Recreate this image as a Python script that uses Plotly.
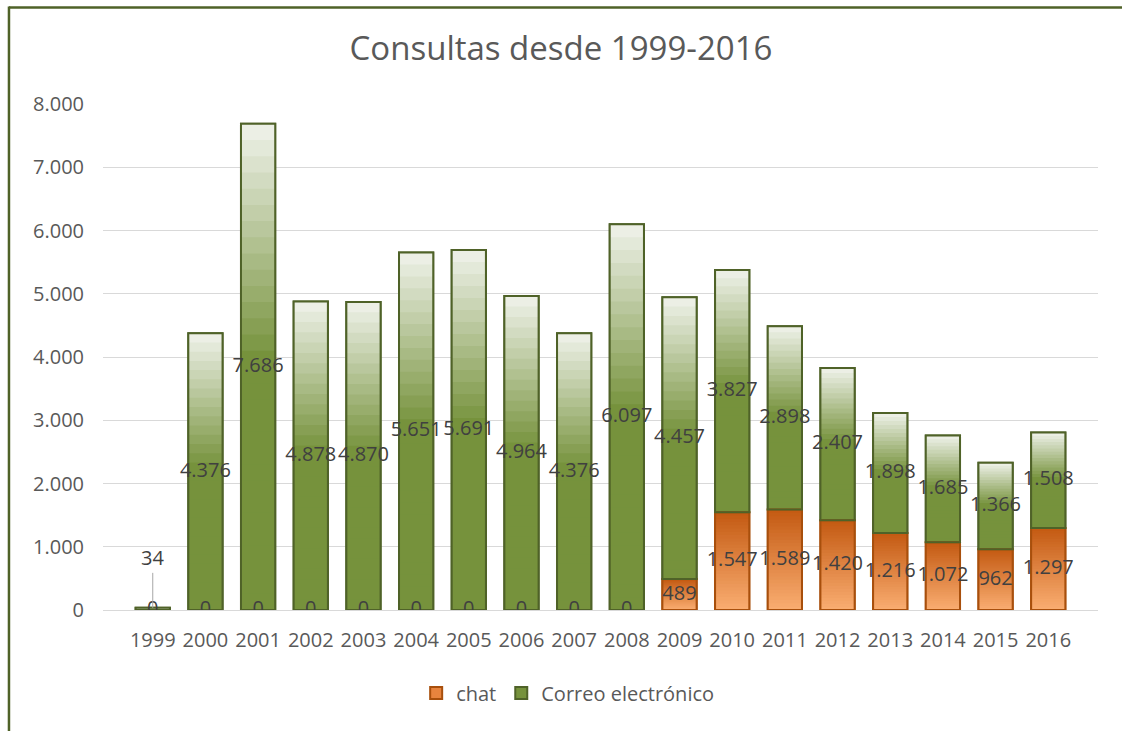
import plotly.graph_objects as go

years = ["1999", "2000", "2001", "2002", "2003", "2004", "2005", "2006", "2007",
         "2008", "2009", "2010", "2011", "2012", "2013", "2014", "2015", "2016"]
chat = [0, 0, 0, 0, 0, 0, 0, 0, 0, 0, 489, 1547, 1589, 1420, 1216, 1072, 962, 1297]
correo = [34, 4376, 7686, 4878, 4870, 5651, 5691, 4964, 4376, 6097, 4457, 3827,
          2898, 2407, 1898, 1685, 1366, 1508]

FONT = "Open Sans"
TXT = "#404040"
GREY = "#595959"
GREEN = (118, 146, 60)
GREEN_TOP = (244, 246, 241)
ORANGE_TOP = (194, 88, 16)
ORANGE_BOT = (249, 172, 112)
N = 30  # layers used to fake the gradient fill


def fmt(v):
    return f"{v:,}".replace(",", ".")


def mix(a, b, t):
    return "rgb(%d,%d,%d)" % tuple(round(a[i] + (b[i] - a[i]) * t) for i in range(3))


def green_at(t):
    # t=0 bottom, t=1 top: solid green in the lower half, fading to white on top
    if t < 0.5:
        return mix(GREEN, GREEN, 0)
    return mix(GREEN, GREEN_TOP, (t - 0.5) / 0.5)


fig = go.Figure()

# base traces (carry the legend)
fig.add_trace(go.Bar(x=years, y=chat, base=[0] * len(years), name="chat",
                     marker=dict(color="rgb(232,132,62)", line=dict(color="#A84F0C", width=2)),
                     width=0.65, hoverinfo="skip"))
fig.add_trace(go.Bar(x=years, y=correo, base=chat, name="Correo electrónico",
                     marker=dict(color="rgb(118,146,60)", line=dict(color="#4F6228", width=2)),
                     width=0.65, hoverinfo="skip"))

# gradient layers: each one runs from its start up to the segment top, so no seams
for k in range(N):
    t = k / N
    fig.add_trace(go.Bar(x=years, y=[c * (1 - t) for c in chat],
                         base=[c * t for c in chat],
                         marker=dict(color=mix(ORANGE_BOT, ORANGE_TOP, t), line=dict(width=0)),
                         width=0.65, showlegend=False, hoverinfo="skip"))
    fig.add_trace(go.Bar(x=years, y=[g * (1 - t) for g in correo],
                         base=[c + g * t for c, g in zip(chat, correo)],
                         marker=dict(color=green_at(t), line=dict(width=0)),
                         width=0.65, showlegend=False, hoverinfo="skip"))

# outlines on top
fig.add_trace(go.Bar(x=years, y=chat, base=[0] * len(years), name="chat",
                     marker=dict(color="rgba(0,0,0,0)", line=dict(color="#A84F0C", width=2)),
                     width=0.65, showlegend=False,
                     customdata=chat, hovertemplate="%{x}<br>chat: %{customdata:,}<extra></extra>"))
fig.add_trace(go.Bar(x=years, y=correo, base=chat, name="Correo electrónico",
                     marker=dict(color="rgba(0,0,0,0)", line=dict(color="#4F6228", width=2)),
                     width=0.65, showlegend=False,
                     customdata=correo,
                     hovertemplate="%{x}<br>Correo electrónico: %{customdata:,}<extra></extra>"))

# data labels
fig.add_trace(go.Scatter(x=years, y=[c / 2 for c in chat], mode="text",
                         text=[fmt(c) for c in chat], showlegend=False, hoverinfo="skip",
                         textfont=dict(family=FONT, size=20, color=TXT)))
fig.add_trace(go.Scatter(x=years[1:], y=[c + g / 2 for c, g in zip(chat[1:], correo[1:])],
                         mode="text", text=[fmt(g) for g in correo[1:]], showlegend=False,
                         hoverinfo="skip", textfont=dict(family=FONT, size=20, color=TXT)))

# 1999 label sits above its tiny bar with a leader line (category index 0)
fig.add_annotation(x=0, y=chat[0] + correo[0], text=fmt(correo[0]), showarrow=True,
                   arrowhead=0, arrowwidth=1, arrowcolor="#A6A6A6", ax=0, ay=-50,
                   font=dict(family=FONT, size=20, color=TXT))

# chart frame (top and left edges visible in the crop)
fig.add_shape(type="line", xref="paper", yref="paper", x0=-0.0945, x1=1.1, y0=1.1905, y1=1.1905,
              line=dict(color="#4F6228", width=2.5))
fig.add_shape(type="line", xref="paper", yref="paper", x0=-0.0945, x1=-0.0945, y0=-0.5, y1=1.1925,
              line=dict(color="#4F6228", width=2.5))

fig.update_layout(
    width=1122, height=731,
    barmode="overlay",
    separators=",.",
    paper_bgcolor="white", plot_bgcolor="white",
    margin=dict(l=103, r=24, t=104, b=121),
    font=dict(family=FONT, color=GREY, size=20),
    title=dict(text="Consultas desde 1999-2016", x=0.5, xanchor="center", y=0.934,
               yanchor="middle", font=dict(family=FONT, size=33, color=GREY)),
    legend=dict(orientation="h", x=0.467, xanchor="center", y=-0.164, yanchor="middle",
                font=dict(family=FONT, size=20, color=GREY), itemwidth=30,
                traceorder="normal"),
    showlegend=True,
)
fig.update_xaxes(type="category", showgrid=False, showline=False, ticks="",
                 ticklabelstandoff=16, tickfont=dict(family=FONT, size=20, color=GREY))
fig.update_yaxes(range=[0, 8000], dtick=1000, tickformat=",", showgrid=True,
                 gridcolor="#D9D9D9", gridwidth=1, zeroline=True, zerolinecolor="#D9D9D9",
                 zerolinewidth=1, showline=False, ticks="", ticklabelstandoff=18,
                 tickfont=dict(family=FONT, size=20, color=GREY))

fig.write_html("out.html", config={"displayModeBar": False},
               post_script="document.body.style.margin='0';")
